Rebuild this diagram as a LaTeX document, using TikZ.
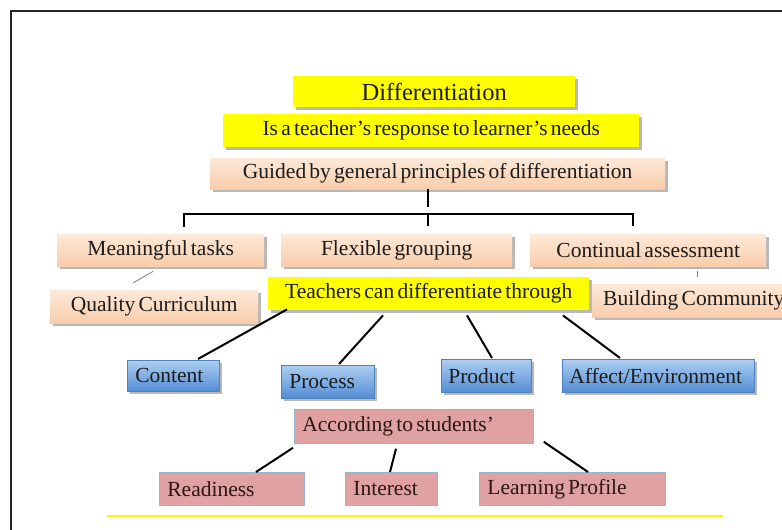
\documentclass[tikz,border=0pt]{standalone}
\usepackage{fontspec}
\setmainfont{Liberation Serif}[WordSpace=0.6]
\usetikzlibrary{calc,shadows}
\definecolor{ylw}{RGB}{255,255,0}
\definecolor{peachT}{RGB}{253,233,216}
\definecolor{peachB}{RGB}{249,204,170}
\definecolor{blueT}{RGB}{172,206,242}
\definecolor{blueB}{RGB}{84,141,212}
\definecolor{blueE}{RGB}{79,129,189}
\definecolor{rosefill}{RGB}{223,161,161}
\definecolor{roseE}{RGB}{149,179,215}
\definecolor{txt}{RGB}{28,28,28}
\definecolor{rosetxt}{RGB}{45,22,22}
\newcommand{\lbox}[2]{\makebox[#1][l]{#2}}
\tikzset{
  box/.style={anchor=north west, inner xsep=0pt, inner ysep=0pt, text=txt,
    font=\fontsize{21.5}{24}\selectfont},
  shad/.style={drop shadow={shadow xshift=2.5pt, shadow yshift=-2.5pt, fill=black, opacity=0.28}},
  ybox/.style={box, shad, fill=ylw},
  pbox/.style={box, shad, top color=peachT, bottom color=peachB},
  bbox/.style={box, shad, top color=blueT, bottom color=blueB, draw=blueE, line width=0.6pt,
    inner xsep=8pt},
  rbox/.style={box, fill=rosefill, draw=roseE, line width=0.8pt, text=rosetxt,
    inner xsep=8pt},
  conn/.style={line width=2pt, black},
  thin/.style={line width=0.8pt, gray},
}
\begin{document}
\begin{tikzpicture}[x=1pt,y=-1pt]
\useasboundingbox (0,0) rectangle (782,530);
\clip (0,0) rectangle (782,530);
\fill[white] (0,0) rectangle (782,530);
% frame
\draw[line width=2.2pt, black!85] (11,540) -- (11,11) -- (800,11);
% top
\node[ybox, minimum width=282pt, minimum height=31pt, font=\fontsize{24.5}{27}\selectfont] (diff) at (293,76) {Differentiation};
\node[ybox, minimum width=416pt, minimum height=33pt] (resp) at (223,114) {Is a teacher’s response to learner’s needs};
\node[pbox, minimum width=455pt, minimum height=31pt] (guided) at (210,158) {Guided by general principles of differentiation};
% row of principles
\node[pbox, minimum width=207pt, minimum height=32pt] (mean) at (57,234) {Meaningful tasks};
\node[pbox, minimum width=231pt, minimum height=32pt] (flex) at (281,234) {Flexible grouping};
\node[pbox, minimum width=236pt, minimum height=32pt] (cont) at (530,234) {Continual assessment};
\node[pbox, minimum width=208pt, minimum height=33pt] (qual) at (50,290) {Quality Curriculum};
\node[ybox, minimum width=321pt, minimum height=33pt] (teach) at (268,277) {Teachers can differentiate through};
\node[pbox, minimum width=210pt, minimum height=33pt, inner xsep=11pt] (build) at (592,284) {\lbox{188pt}{Building Community}};
% blue
\node[bbox, minimum width=92pt, minimum height=31pt] (content) at (127,360) {\lbox{76pt}{Content}};
\node[bbox, minimum width=93pt, minimum height=33pt] (process) at (281,365) {\lbox{77pt}{Process}};
\node[bbox, minimum width=90pt, minimum height=33pt, inner xsep=7pt] (product) at (441,359) {\lbox{76pt}{Product}};
\node[bbox, minimum width=192pt, minimum height=33pt, inner xsep=7pt] (affect) at (562,359) {\lbox{178pt}{Affect/Environment}};
% rose
\node[rbox, minimum width=239pt, minimum height=34pt] (accord) at (294,409) {\lbox{223pt}{According to students’}};
\node[rbox, minimum width=145pt, minimum height=33pt] (ready) at (159,472) {\lbox{129pt}{Readiness}};
\node[rbox, minimum width=92pt, minimum height=33pt] (interest) at (345,472) {\lbox{76pt}{Interest}};
\node[rbox, minimum width=186pt, minimum height=33pt] (lp) at (479,472) {\lbox{170pt}{Learning Profile}};
% bracket
\coordinate (stemtop) at ($(guided.south west)+(218,0)$);
\coordinate (stembot) at (428,207);
\coordinate (bl) at (184,227);
\coordinate (blt) at (184,214);
\coordinate (bm) at (428,214);
\coordinate (bmb) at (428,226);
\coordinate (brt) at (633,214);
\coordinate (br) at (633,226);
\draw[line width=2.4pt] (stemtop) -- (stembot);
\draw[line width=2.4pt] (bl) -- (blt) -- (brt) -- (br);
\draw[line width=2.4pt] (bm) -- (bmb);
% thin links
\draw[thin] ($(mean.south west)+(96,5)$) -- ($(qual.north west)+(83,-7)$);
\draw[thin] ($(cont.south west)+(167,5)$) -- ($(cont.south west)+(167,11)$);
% connectors
\draw[conn] ($(teach.south west)+(19,-1)$) -- ($(content.north west)+(71,-1)$);
\draw[conn] ($(teach.south west)+(115,5)$) -- ($(process.north west)+(58,-1)$);
\draw[conn] ($(teach.south west)+(199,5)$) -- ($(product.north west)+(51,-1)$);
\draw[conn] ($(teach.south west)+(295,5)$) -- ($(affect.north west)+(58,-1)$);
\draw[conn] ($(accord.south west)+(-1,4)$) -- ($(ready.north west)+(97,0)$);
\draw[conn] ($(accord.south west)+(102,5)$) -- ($(interest.north west)+(45,0)$);
\draw[conn] ($(accord.south east)+(10,-2)$) -- ($(lp.north west)+(109,0)$);
% bottom yellow rule
\draw[ylw!90!orange, line width=1.3pt] (107,516) -- (723,516);
\end{tikzpicture}
\end{document}
